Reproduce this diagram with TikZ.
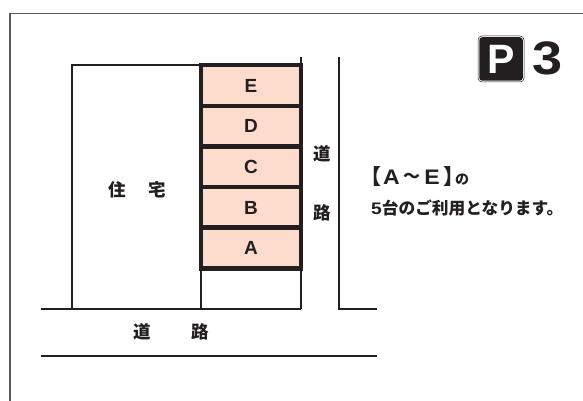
\documentclass[tikz,border=0pt]{standalone}
\usepackage{fontspec}
\setmainfont{Liberation Sans}
\newfontfamily\cjk{Noto Sans CJK JP Black}
\newfontfamily\cjkhalf{Noto Sans CJK JP Black}[RawFeature=+halt]
\definecolor{ink}{HTML}{231F20}
\definecolor{stall}{HTML}{FDDCCE}
\tikzset{
  thinline/.style={draw=ink,line width=2pt},
  frameline/.style={draw=ink!75,line width=1.2pt},
  stallbox/.style={draw=ink,line width=4.5pt,fill=stall,minimum width=100pt,minimum height=41pt,inner sep=0pt,font=\bfseries\fontsize{19}{19}\selectfont,text=ink},
  jplabel/.style={font=\cjk\fontsize{17.5}{17.5}\selectfont,text=ink,inner sep=0pt},
  notelatin/.style={inner sep=0pt,text=ink,font=\bfseries\fontsize{21}{21}\selectfont},
  notejp/.style={anchor=west,inner sep=0pt,text=ink,font=\cjk\fontsize{16.7}{16.7}\selectfont},
  notebracket/.style={anchor=west,inner sep=0pt,text=ink,font=\cjkhalf\fontsize{21}{21}\selectfont},
}
\begin{document}
\begin{tikzpicture}[x=1pt,y=-1pt]
\useasboundingbox (0,0) rectangle (583,401);
\draw[frameline] (583,13.5) -- (10,13.5) -- (10,401);
% house and lot
\draw[thinline] (201,65) -- (72,65) -- (72,309);
\draw[thinline] (301,57) -- (301,309);
\draw[thinline] (201,65) -- (201,309);
\draw[thinline] (339,57) -- (339,309) -- (377,309);
\draw[thinline] (41,309) -- (301,309);
\draw[thinline] (41,355.5) -- (377,355.5);
% stalls
\node[stallbox] (E) at (251,85.5) {E};
\node[stallbox] (D) at (251,126.3) {D};
\node[stallbox] (C) at (251,167) {C};
\node[stallbox] (B) at (251,207.5) {B};
\node[stallbox] (A) at (251,248) {A};
% labels
\node[jplabel] (h1) at (117.5,190) {住};
\node[jplabel] (h2) at (157,190) {宅};
\node[jplabel] (r1) at (322,154) {道};
\node[jplabel] (r2) at (322,213) {路};
\node[jplabel] (r3) at (142,332) {道};
\node[jplabel] (r4) at (200.5,332) {路};
% P3
\node[draw=ink,line width=0.5pt,rounded corners=4pt,minimum size=46pt,inner sep=0pt] (Pbox) at (501,59) {};
\node[fill=ink,rounded corners=3pt,minimum size=43.5pt,inner sep=0pt,text=white,font=\bfseries\fontsize{41}{41}\selectfont] (P) at (Pbox) {P};
\node[inner sep=0pt,text=ink,font=\bfseries\fontsize{47}{47}\selectfont] (three) at (548,58.5) {\scalebox{1.15}[1]{3}};
% note
\node[notebracket] (n1) at (371,177) {【};
\node[notelatin] (n2) at (391.5,177.5) {\scalebox{1.1}[1]{A}};
\node[notejp,anchor=center,font=\cjk\fontsize{17}{17}\selectfont] (n3) at (411.5,177.5) {～};
\node[notelatin] (n4) at (432,177.5) {\scalebox{1.1}[1]{E}};
\node[notebracket] (n5) at (443,177) {】};
\node[notejp,font=\cjk\fontsize{14}{14}\selectfont] (n6) at (455,180) {の};
\node[notejp] (n7) at (371,208.5) {{\fontspec{Liberation Sans Bold}\scalebox{1.15}[1]{5}}台のご利用となります。};
\end{tikzpicture}
\end{document}
